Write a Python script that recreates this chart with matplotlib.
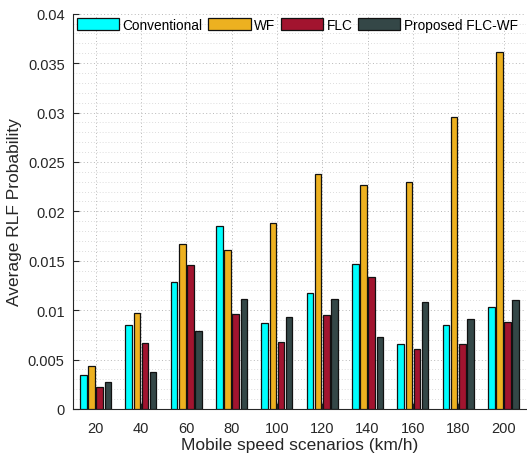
import matplotlib
matplotlib.use("Agg")
import matplotlib.pyplot as plt
import numpy as np
from matplotlib.ticker import MultipleLocator

plt.rcParams['font.family'] = ['Liberation Sans', 'DejaVu Sans']

speeds = ['20', '40', '60', '80', '100', '120', '140', '160', '180', '200']
conventional = [0.00347, 0.0085, 0.01285, 0.01849, 0.00867, 0.01174, 0.01464, 0.00658, 0.00847, 0.01029]
wf = [0.00439, 0.00972, 0.01673, 0.01606, 0.01879, 0.02379, 0.0227, 0.02294, 0.02952, 0.0361]
flc = [0.0022, 0.00671, 0.01454, 0.00958, 0.00678, 0.00951, 0.01336, 0.00607, 0.00661, 0.00877]
proposed = [0.0027, 0.0037, 0.00793, 0.01113, 0.00931, 0.01113, 0.00729, 0.01083, 0.00908, 0.01106]
series_names = ['Conventional', 'WF', 'FLC', 'Proposed FLC-WF']
yticks = [0, 0.005, 0.01, 0.015, 0.02, 0.025, 0.03, 0.035, 0.04]
ytick_labels = ['0', '0.005', '0.01', '0.015', '0.02', '0.025', '0.03', '0.035', '0.04']
colors = ['#00FFFF', '#EDB120', '#A2142F', '#344747']

fig = plt.figure(figsize=(5.27, 4.64), dpi=100)
ax = fig.add_axes([0.1385, 0.1164, 0.86, 0.8519])

x = np.arange(1, len(speeds) + 1)
slot = 0.18
width = 0.145
data = [conventional, wf, flc, proposed]
for i, (vals, name, c) in enumerate(zip(data, series_names, colors)):
    ax.bar(x + (i - 1.5) * slot, vals, width, color=c, edgecolor='#111111',
           linewidth=0.9, label=name, zorder=3)

ax.set_xlim(0.5, 10.5)
ax.set_xticks(x)
ax.set_xticklabels(speeds)
ax.set_yticks(yticks)
ax.set_yticklabels(ytick_labels)
ax.yaxis.set_minor_locator(MultipleLocator(0.001))
ax.set_ylim(0, 0.04)

ax.grid(True, which='major', linestyle=(0, (1, 2.5)), color='#b8b8b8', linewidth=0.7, zorder=0)
ax.yaxis.grid(True, which='minor', linestyle=(0, (1, 2.5)), color='#d0d0d0', linewidth=0.6, zorder=0)
ax.set_axisbelow(True)

ax.spines['top'].set_visible(False)
ax.spines['right'].set_visible(False)
for s in ['left', 'bottom']:
    ax.spines[s].set_color('#262626')
    ax.spines[s].set_linewidth(0.8)

ax.tick_params(axis='both', which='major', direction='in', length=4, labelsize=10.5,
               colors='#262626', pad=6)
ax.tick_params(axis='y', which='minor', length=0)
ax.tick_params(axis='x', pad=9)

ax.set_xlabel('Mobile speed scenarios (km/h)', fontsize=12.5, color='#262626', labelpad=1)
ax.set_ylabel('Average RLF Probability', fontsize=12.5, color='#262626', labelpad=4)

leg = ax.legend(loc='upper left', ncol=4, frameon=False, fontsize=9.8,
                handlelength=3.1, handleheight=1.05, handletextpad=0.25,
                columnspacing=0.42, borderaxespad=0.2, borderpad=0.1,
                bbox_to_anchor=(0.0, 1.0))

fig.savefig('out.png', dpi=100)
